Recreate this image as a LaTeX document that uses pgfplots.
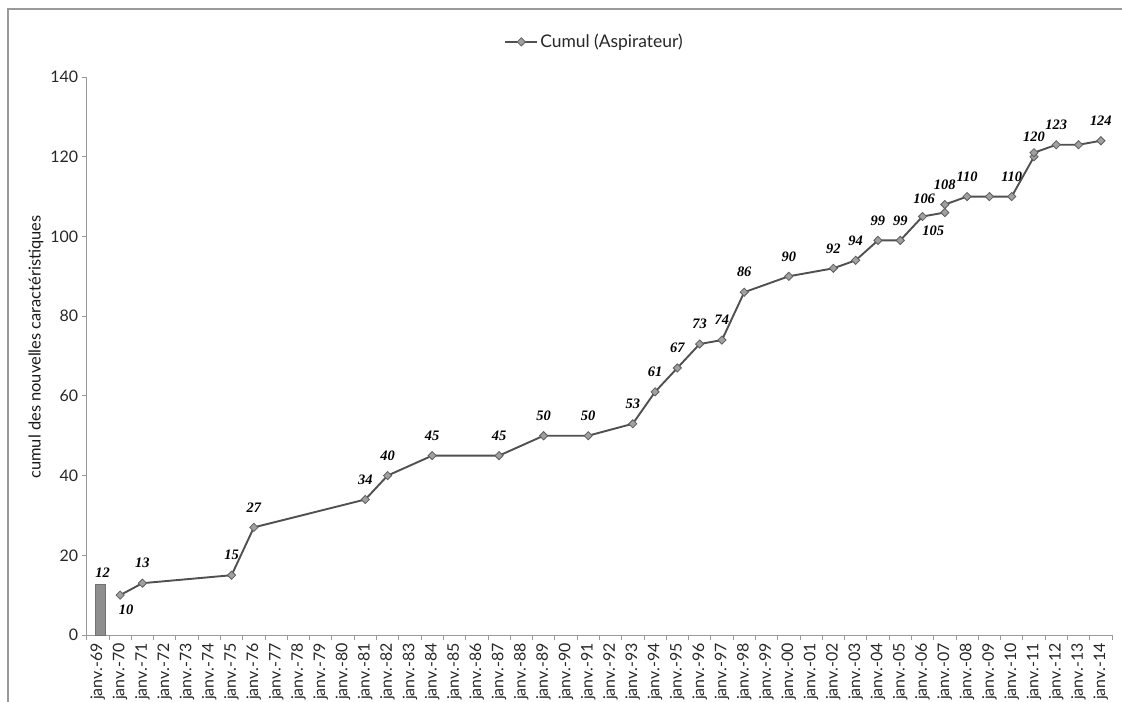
\documentclass[border=0pt]{standalone}
\usepackage{fontspec}
\setmainfont{Lato}
\newfontfamily\lblfont{Liberation Serif}
\usepackage{pgfplots}
\usepackage{pgfplotstable}
\pgfplotsset{compat=1.18}
\definecolor{linec}{HTML}{505050}
\definecolor{markf}{HTML}{A0A0A0}
\definecolor{markd}{HTML}{5E5E5E}
\definecolor{barf}{HTML}{8E8E8E}
\definecolor{axc}{HTML}{9A9A9A}

% cumulative series: x = category centre (janv.-69 -> 0.5)
\pgfplotstableread{
x y
1.5 10
2.5 13
6.5 15
7.5 27
12.5 34
13.5 40
15.5 45
18.5 45
20.5 50
22.5 50
24.5 53
25.5 61
26.5 67
27.5 73
28.5 74
29.5 86
31.5 90
33.5 92
34.5 94
35.5 99
36.5 99
37.5 105
38.5 106
38.5 108
39.5 110
40.5 110
41.5 110
42.5 120
42.5 121
43.5 123
44.5 123
45.5 124
}\cumul

% labelled points placed above the marker
\pgfplotstableread{
x y lbl
2.5 13 13
6.5 15 15
7.5 27 27
12.5 34 34
13.5 40 40
15.5 45 45
18.5 45 45
20.5 50 50
22.5 50 50
24.5 53 53
25.5 61 61
26.5 67 67
27.5 73 73
28.5 74 74
29.5 86 86
31.5 90 90
33.5 92 92
34.5 94 94
35.5 99 99
36.5 99 99
38.5 108 108
39.5 110 110
41.5 110 110
42.5 120 120
43.5 123 123
45.5 124 124
}\labelsup

\pgfplotsset{lbl/.style={draw=none, mark=none, forget plot, nodes near coords, point meta=explicit symbolic,
  every node near coord/.append style={anchor=center, font=\lblfont\bfseries\itshape\fontsize{14.5}{14.5}\selectfont, text=black, inner sep=0pt}}}

\begin{document}
\begin{tikzpicture}
\begin{axis}[
  scale only axis,
  width=1025.3bp, height=558bp,
  xmin=0, xmax=46, ymin=0, ymax=140,
  axis x line*=bottom, axis y line*=left,
  axis line style={axc, line width=0.8bp, -},
  every tick/.style={axc, line width=0.8bp},
  tick align=outside,
  major tick length=5bp,
  xtick={0,...,46},
  x tick label as interval,
  xticklabels={janv.-69,janv.-70,janv.-71,janv.-72,janv.-73,janv.-74,janv.-75,janv.-76,janv.-77,janv.-78,janv.-79,janv.-80,janv.-81,janv.-82,janv.-83,janv.-84,janv.-85,janv.-86,janv.-87,janv.-88,janv.-89,janv.-90,janv.-91,janv.-92,janv.-93,janv.-94,janv.-95,janv.-96,janv.-97,janv.-98,janv.-99,janv.-00,janv.-01,janv.-02,janv.-03,janv.-04,janv.-05,janv.-06,janv.-07,janv.-08,janv.-09,janv.-10,janv.-11,janv.-12,janv.-13,janv.-14},
  xticklabel style={rotate=90, anchor=east, font=\fontsize{16}{16}\selectfont, text=black!85},
  ytick={0,20,...,140},
  yticklabel style={font=\fontsize{16}{16}\selectfont, text=black!85},
  /pgf/number format/assume math mode=true,
  ylabel={cumul des nouvelles caractéristiques},
  ylabel style={at={(axis description cs:-0.0494,0.516)}, anchor=center, font=\fontsize{16.5}{16.5}\selectfont, text=black!90},
  clip=false,
  legend style={at={(rel axis cs:0.4953,1.063)}, anchor=center, draw=none, fill=none, font=\fontsize{17.5}{17.5}\selectfont, text=black!85},
  legend image code/.code={\draw[#1, mark repeat=2, mark phase=2] plot coordinates {(0bp,0bp) (16bp,0bp) (32bp,0bp)};},
]
\addplot[ybar, bar width=10bp, bar shift=2.3bp, fill=barf, draw=barf!80!black, forget plot]
  coordinates {(0.5,12.7)};
\addplot[linec, line width=1.9bp, mark=square*, mark size=2.9bp,
  mark options={rotate=45, fill=markf, draw=markd, line width=0.8bp},
] table[x=x, y=y] {\cumul};
\addlegendentry{Cumul (Aspirateur)}
\addplot[lbl, every node near coord/.append style={yshift=20bp}] table[x=x, y=y, meta=lbl] {\labelsup};
\addplot[lbl, every node near coord/.append style={xshift=4.7bp, yshift=12bp}] coordinates {(0.5,12.7) [12]};
\addplot[lbl, every node near coord/.append style={xshift=6bp, yshift=-15bp}] coordinates {(1.5,10) [10]};
\addplot[lbl, every node near coord/.append style={xshift=10.7bp, yshift=-14.3bp}] coordinates {(37.5,105) [105]};
\addplot[lbl, every node near coord/.append style={xshift=-20.7bp, yshift=14bp}] coordinates {(38.5,106) [106]};
\end{axis}
\draw[axc, line width=1.2bp] ([xshift=-78.7bp,yshift=-90bp]current axis.south west) -- ([xshift=-78.7bp,yshift=626bp]current axis.south west) -- ([xshift=1060bp,yshift=626bp]current axis.south west);
\pgfresetboundingbox
\path[use as bounding box] ([xshift=-86.7bp,yshift=-67bp]current axis.south west) rectangle ([xshift=1035.3bp,yshift=635bp]current axis.south west);
\end{tikzpicture}
\end{document}
